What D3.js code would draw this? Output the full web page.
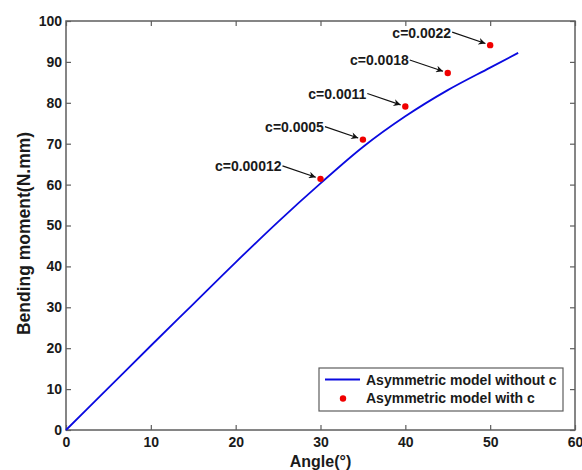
<!DOCTYPE html>
<html>
<head>
<meta charset="utf-8">
<script src="https://cdn.jsdelivr.net/npm/d3@7"></script>
<style>
  html, body { margin: 0; padding: 0; background: #fff; }
  svg text { font-family: "Liberation Sans", Arial, sans-serif; font-weight: bold; fill: #1a1a1a; }
</style>
</head>
<body>
<svg id="chart" width="582" height="470"></svg>
<script>
// ---- data ----
const curveAngle  = [0, 5, 10, 15, 20, 25, 30, 35, 40, 45, 50, 53.3];
const curveMoment = [0, 10.3, 20.6, 30.8, 41.0, 50.9, 60.3, 69.2, 76.7, 83.1, 88.6, 92.2];

const pointAngle  = [30, 35, 40, 45, 50];
const pointMoment = [61.4, 71.0, 79.1, 87.3, 94.1];
const pointLabels = ["c=0.00012", "c=0.0005", "c=0.0011", "c=0.0018", "c=0.0022"];

const xTicks = [0, 10, 20, 30, 40, 50, 60];
const yTicks = [0, 10, 20, 30, 40, 50, 60, 70, 80, 90, 100];

const seriesNames = ["Asymmetric model without c", "Asymmetric model with c"];
const xLabel = "Angle(°)";
const yLabel = "Bending moment(N.mm)";

// ---- layout ----
const svg = d3.select("#chart");
const L = 66, R = 575, T = 21, B = 430;
const x = d3.scaleLinear().domain([0, 60]).range([L, R]);
const y = d3.scaleLinear().domain([0, 100]).range([B, T]);
const axisColor = "#5e5e5e";

// arrow head marker
svg.append("defs").append("marker")
  .attr("id", "ah").attr("viewBox", "0 0 10 10")
  .attr("refX", 10).attr("refY", 5)
  .attr("markerWidth", 10).attr("markerHeight", 7)
  .attr("markerUnits", "userSpaceOnUse")
  .attr("orient", "auto")
  .append("path").attr("d", "M0,0 L10,5 L0,10 L3,5 Z").attr("fill", "#111");

// frame
svg.append("rect").attr("x", L).attr("y", T).attr("width", R - L).attr("height", B - T)
  .attr("fill", "none").attr("stroke", axisColor).attr("stroke-width", 1.5);

// axes
const xAxis = d3.axisBottom(x).tickValues(xTicks).tickSize(-5).tickPadding(7).tickFormat(d3.format("d"));
const gx = svg.append("g").attr("transform", `translate(0,${B})`).call(xAxis);
const yAxis = d3.axisLeft(y).tickValues(yTicks).tickSize(-5).tickPadding(4).tickFormat(d3.format("d"));
const gy = svg.append("g").attr("transform", `translate(${L},0)`).call(yAxis);
const gxt = svg.append("g").attr("transform", `translate(0,${T})`).call(d3.axisTop(x).tickValues(xTicks).tickSize(-5).tickFormat(""));
const gyr = svg.append("g").attr("transform", `translate(${R},0)`).call(d3.axisRight(y).tickValues(yTicks).tickSize(-5).tickFormat(""));
[gx, gy, gxt, gyr].forEach(g => {
  g.select(".domain").remove();
  g.selectAll(".tick line").attr("stroke", axisColor).attr("stroke-width", 1.2);
  g.selectAll("text").style("font-size", "14px").attr("fill", "#1a1a1a");
});

// axis labels
svg.append("text").attr("x", (L + R) / 2).attr("y", 466.5).attr("text-anchor", "middle")
  .style("font-size", "16px").text(xLabel);
svg.append("text").attr("transform", `translate(30,${(T + B) / 2 + 8}) rotate(-90)`)
  .attr("text-anchor", "middle").style("font-size", "17.5px").text(yLabel);

// curve
const line = d3.line().x((d, i) => x(curveAngle[i])).y((d, i) => y(curveMoment[i])).curve(d3.curveMonotoneX);
svg.append("path").datum(curveMoment).attr("d", line)
  .attr("fill", "none").attr("stroke", "#0a0ae0").attr("stroke-width", 1.8);

// points
svg.selectAll("circle.pt").data(pointMoment).enter().append("circle").attr("class", "pt")
  .attr("cx", (d, i) => x(pointAngle[i])).attr("cy", d => y(d)).attr("r", 3.2).attr("fill", "#f00000");

// annotations
const offX = -38, offY = -13;
pointMoment.forEach((m, i) => {
  const px = x(pointAngle[i]), py = y(m);
  const tx = px + offX, ty = py + offY;
  const ang = Math.atan2(py - ty, px - tx);
  const ex = px - 5 * Math.cos(ang), ey = py - 5 * Math.sin(ang);
  svg.append("line").attr("x1", tx).attr("y1", ty).attr("x2", ex).attr("y2", ey)
    .attr("stroke", "#111").attr("stroke-width", 1.1).attr("marker-end", "url(#ah)");
  svg.append("text").attr("x", tx - 1).attr("y", ty + 5.5).attr("text-anchor", "end")
    .style("font-size", "14px").text(pointLabels[i]);
});

// legend
const lg = svg.append("g");
lg.append("rect").attr("x", 319).attr("y", 368).attr("width", 244).attr("height", 43)
  .attr("fill", "#fff").attr("stroke", axisColor).attr("stroke-width", 1.2);
lg.append("line").attr("x1", 325).attr("x2", 360).attr("y1", 379.5).attr("y2", 379.5)
  .attr("stroke", "#0a0ae0").attr("stroke-width", 1.8);
lg.append("circle").attr("cx", 343).attr("cy", 398.5).attr("r", 3.2).attr("fill", "#f00000");
lg.append("text").attr("x", 366).attr("y", 385).style("font-size", "14px").text(seriesNames[0]);
lg.append("text").attr("x", 366).attr("y", 402.5).style("font-size", "14px").text(seriesNames[1]);
</script>
</body>
</html>
